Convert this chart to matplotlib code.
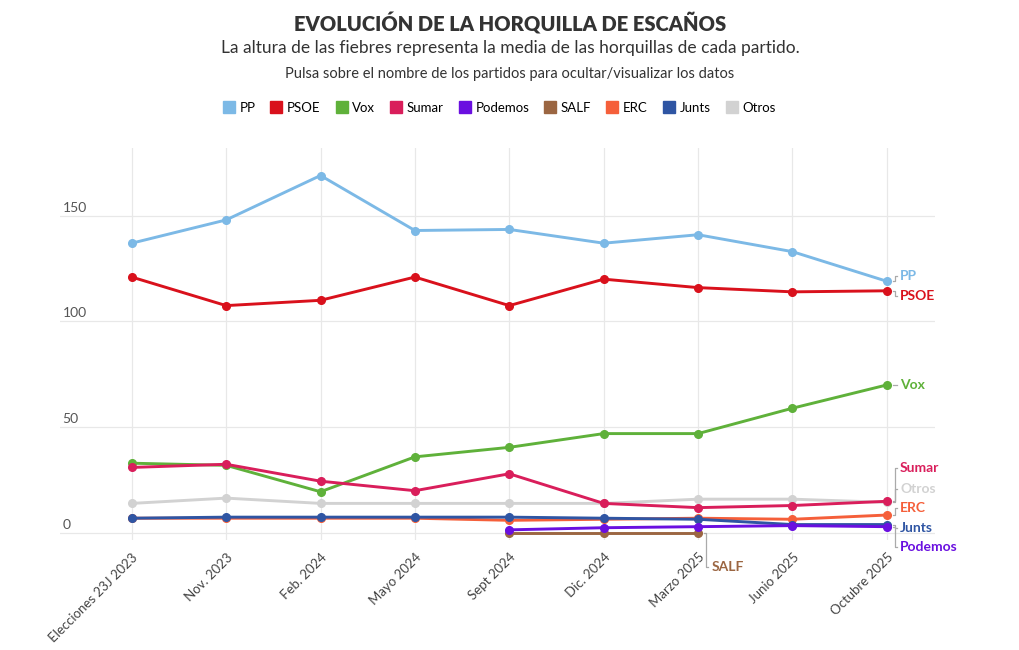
import numpy as np
import matplotlib.pyplot as plt
import matplotlib.transforms as mtransforms
from matplotlib.lines import Line2D

plt.rcParams['font.family'] = ['Lato', 'DejaVu Sans']

# datos: media de las horquillas de escaños
fechas = ['Elecciones 23J 2023', 'Nov. 2023', 'Feb. 2024', 'Mayo 2024', 'Sept 2024',
          'Dic. 2024', 'Marzo 2025', 'Junio 2025', 'Octubre 2025']
pp = [137, 148, 169, 143, 143.5, 137, 141, 133, 119]
psoe = [121, 107.5, 110, 121, 107.5, 120, 116, 114, 114.5]
vox = [33, 32, 19.5, 36, 40.5, 47, 47, 59, 70]
sumar = [31, 32.5, 24.5, 20, 28, 14, 12, 13, 15]
podemos = [None, None, None, None, 1.5, 2.5, 3, 3.5, 3]
salf = [None, None, None, None, 0, 0, 0, None, None]
erc = [7, 7, 7, 7, 6, 6.5, 7, 6.5, 8.5]
junts = [7, 7.5, 7.5, 7.5, 7.5, 7, 6.5, 4, 4]
otros = [14, 16.5, 14, 14, 14, 14, 16, 16, 14.5]

partidos = ['PP', 'PSOE', 'Vox', 'Sumar', 'Podemos', 'SALF', 'ERC', 'Junts', 'Otros']
series = [pp, psoe, vox, sumar, podemos, salf, erc, junts, otros]
colores = ['#7cb9e6', '#d9111c', '#5fb13a', '#d91e5b', '#6a0fe0', '#9b6642',
           '#f55f3a', '#2f55a3', '#d2d2d2']
orden_dibujo = ['Otros', 'SALF', 'PP', 'PSOE', 'Vox', 'Sumar', 'ERC', 'Junts', 'Podemos']
# posición vertical de las etiquetas finales (para que no se solapen)
etiqueta_y = {'PP': 121.5, 'PSOE': 112, 'Vox': 70, 'Sumar': 30.5, 'Otros': 21,
              'ERC': 12, 'Junts': 2.5, 'Podemos': -6.5, 'SALF': -16}

fig = plt.figure(figsize=(10.2, 6.5), dpi=100)
ax = fig.add_axes([60/1020, 110/650, 875/1020, 392/650])
x = np.arange(len(fechas))

for nombre in orden_dibujo:
    i = partidos.index(nombre)
    vals = np.array([np.nan if v is None else v for v in series[i]], dtype=float)
    ax.plot(x, vals, color=colores[i], lw=2.1, marker='o', ms=5.5, zorder=3,
            solid_joinstyle='round')

# etiquetas finales con conector
for nombre, c, vals in zip(partidos, colores, series):
    idx = max(k for k, v in enumerate(vals) if v is not None)
    yv = vals[idx]
    yl = etiqueta_y[nombre]
    xc = idx + 0.065
    ax.plot([xc, xc + 0.02, xc + 0.02, xc + 0.04], [yv, yv, yl, yl], color='#aaaaaa',
            lw=0.9, clip_on=False, zorder=2)
    ax.text(idx + 0.14, yl, nombre, color=c, fontsize=10, fontweight='bold',
            va='center', ha='left', clip_on=False)

ax.set_xlim(-0.76, 8.51)
ax.set_ylim(-3.3, 182)
for s in ax.spines.values():
    s.set_visible(False)
ax.set_yticks([])
ax.set_xticks(x)
ax.set_xticklabels(fechas, rotation=45, ha='right', rotation_mode='anchor',
                   fontsize=9.5, color='#444444')
ax.tick_params(axis='x', length=0, pad=8)
for xi in x:
    ax.axvline(xi, color='#e8e8e8', lw=0.9, zorder=0)
trans = mtransforms.blended_transform_factory(ax.transAxes, ax.transData)
for yt in [0, 50, 100, 150]:
    ax.axhline(yt, color='#e8e8e8', lw=0.9, zorder=0)
    ax.text(0.003, yt + 3.8, str(yt), transform=trans, fontsize=10,
            color='#555555', ha='left', va='center')

fig.text(0.5, 1 - 24/650, 'EVOLUCIÓN DE LA HORQUILLA DE ESCAÑOS', ha='center',
         va='center', fontsize=14.5, fontweight='heavy', color='#333333')
fig.text(0.5, 1 - 48/650, 'La altura de las fiebres representa la media de las horquillas de cada partido.',
         ha='center', va='center', fontsize=12.5, color='#333333')
fig.text(0.5, 1 - 74/650, 'Pulsa sobre el nombre de los partidos para ocultar/visualizar los datos',
         ha='center', va='center', fontsize=10.5, color='#333333')

handles = [Line2D([], [], ls='none', marker='s', ms=8.5, color=c) for c in colores]
fig.legend(handles, partidos, loc='center', bbox_to_anchor=(0.49, 1 - 108/650), ncol=9,
           frameon=False, fontsize=9.5, handlelength=0.7, handletextpad=0.45,
           columnspacing=1.25)

fig.savefig('out.png', dpi=100)
